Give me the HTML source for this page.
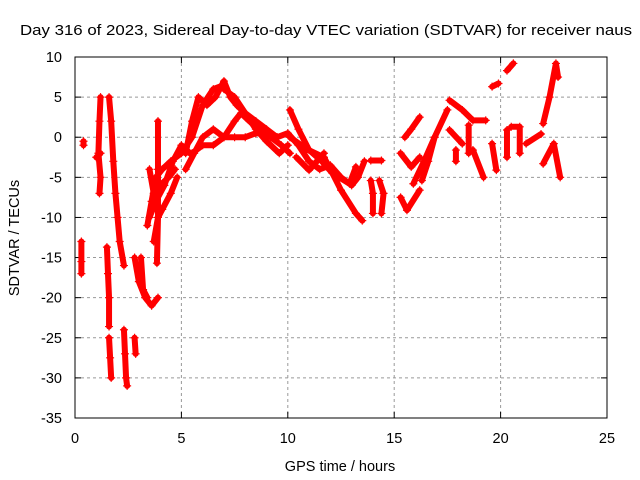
<!DOCTYPE html>
<html><head><meta charset="utf-8"><style>
body{margin:0;background:#fff}
svg{display:block;font-family:"Liberation Sans",sans-serif}
</style></head><body>
<svg id="chart" width="640" height="480" viewBox="0 0 640 480" xmlns="http://www.w3.org/2000/svg">
<text x="326" y="35" font-size="15.2" text-anchor="middle" textLength="612" lengthAdjust="spacingAndGlyphs">Day 316 of 2023, Sidereal Day-to-day VTEC variation (SDTVAR) for receiver naus</text>
<text x="340" y="471" font-size="14.5" text-anchor="middle">GPS time / hours</text>
<text transform="translate(19,238) rotate(-90)" font-size="14.5" text-anchor="middle">SDTVAR / TECUs</text>
<g id="grid"></g>
<g id="ticks"></g>
<g id="series"></g>
<rect x="75" y="57" width="532" height="361" fill="none" stroke="#000" stroke-width="1"/>
</svg>
<script>
const xTicks=[0,5,10,15,20,25];
const yTicks=[-35,-30,-25,-20,-15,-10,-5,0,5,10];
const tracks=[
[[0.3,-13],[0.3,-15.5],[0.3,-17]],
[[0.4,-1],[0.4,-0.5]],
[[1.0,-2.5],[1.2,-2]],
[[1.2,5],[1.15,2],[1.1,-2],[1.2,-5],[1.15,-7]],
[[1.6,5],[1.7,2],[1.8,-3],[1.9,-7],[2.0,-10],[2.1,-13],[2.3,-16]],
[[1.5,-13.7],[1.55,-17],[1.6,-20],[1.6,-23.6]],
[[1.6,-25],[1.65,-27.5],[1.7,-30]],
[[2.3,-24],[2.35,-27],[2.4,-30],[2.45,-31]],
[[2.8,-25],[2.85,-27]],
[[2.8,-15],[3.0,-18],[3.3,-20],[3.6,-21],[3.9,-20]],
[[3.1,-15],[3.2,-19],[3.4,-20]],
[[3.9,2],[3.9,-4],[3.9,-10],[3.85,-15.7]],
[[3.4,-11],[3.6,-8],[3.8,-5],[4.1,-4],[4.5,-3],[5.0,-2],[5.5,0],[6.0,4],[6.5,6],[7.0,6.5]],
[[3.5,-4],[3.7,-7],[4.0,-6],[4.4,-5],[4.7,-4]],
[[3.5,-10],[3.8,-8],[4.2,-6],[4.6,-3],[5.0,-1],[5.4,-2]],
[[3.7,-13],[3.9,-10],[4.1,-9],[4.5,-7],[4.8,-5]],
[[5.2,-2],[5.5,2],[5.8,5],[6.2,4],[6.6,5],[7.0,7],[7.3,5],[7.6,4],[8.0,3],[8.5,2],[9.0,1],[9.5,0],[10.0,0.5],[10.5,-1],[11.0,-3],[11.5,-4],[12.0,-3.5],[12.5,-5],[13.0,-6],[13.3,-5],[13.6,-3]],
[[5.5,-2],[6.0,-1],[6.5,-1],[7.0,0],[7.5,2],[7.8,3],[8.2,2],[8.7,1],[9.2,0],[9.7,-1],[10.1,-2]],
[[5.2,-4],[5.6,-2],[6.0,0],[6.5,1],[7.0,0],[7.5,0],[8.0,0],[8.5,0.5],[9.0,0.5],[9.5,0]],
[[7.0,6],[7.5,5],[8.0,3],[8.5,1],[9.0,-0.5],[9.6,-2],[10.0,-1]],
[[10.1,3.4],[10.5,1],[11.0,-1.6],[11.6,-3],[12.1,-4.5],[12.9,-5.8],[13.2,-3.7]],
[[10.1,0],[10.9,-1.5],[11.7,-2.5],[12.1,-4.5],[12.5,-6.6],[13.2,-9.5],[13.5,-10.4]],
[[10.4,-2.5],[11.0,-4.1],[11.7,-2]],
[[13.9,-2.9],[14.4,-2.9]],
[[13.9,-5.4],[14.0,-7],[14.0,-9.5]],
[[14.3,-5.4],[14.5,-7],[14.4,-9.5]],
[[15.5,0],[15.8,1],[16.2,2.5]],
[[15.3,-2],[15.8,-3.7],[16.2,-2.5]],
[[15.3,-7.5],[15.6,-9.1],[16.2,-6.6]],
[[15.9,-5.8],[16.4,-3],[16.9,0],[17.5,3.4]],
[[16.3,-5.4],[16.6,-3],[16.9,0]],
[[17.6,4.6],[18.2,3.4],[18.7,2.1],[19.3,2.1]],
[[17.6,0.9],[18.2,-0.8]],
[[18.5,1.5],[18.5,-2]],
[[18.7,-1.6],[19.2,-5]],
[[17.9,-1.6],[17.9,-3]],
[[19.6,6.3],[19.9,6.7]],
[[20.3,8.3],[20.6,9.2]],
[[19.6,-0.8],[19.8,-4.1]],
[[20.3,0.9],[20.3,-2.5]],
[[20.5,1.3],[20.9,1.3],[20.9,-2]],
[[21.2,-0.8],[21.9,0.4]],
[[22.0,1.7],[22.3,5],[22.6,9.2],[22.7,7.5]],
[[22.0,-3.3],[22.5,-0.8],[22.8,-5]]
];
const X0=75,X1=607,Y0=418,Y1=57;
function xs(t){return X0+(t-0)/25*(X1-X0);}
function ys(v){return Y0-(v+35)/45*(Y0-Y1);}
const NS="http://www.w3.org/2000/svg";
const grid=document.getElementById('grid'),ticks=document.getElementById('ticks'),series=document.getElementById('series');
function mk(tag,attrs,parent){const e=document.createElementNS(NS,tag);for(const k in attrs)e.setAttribute(k,attrs[k]);parent.appendChild(e);return e;}
xTicks.forEach(t=>{
 const x=xs(t);
 if(t>0&&t<25){const g=mk('line',{x1:x,x2:x,y1:Y1,y2:Y0,stroke:'#999','stroke-dasharray':'3,3'},grid);
 
 }
 mk('line',{x1:x,x2:x,y1:Y0,y2:Y0-6,stroke:'#000'},ticks);
 mk('line',{x1:x,x2:x,y1:Y1,y2:Y1+6,stroke:'#000'},ticks);
 const l=mk('text',{x:x,y:443,'font-size':14.5,'text-anchor':'middle'},ticks);
 l.textContent=t;
 
 
});
yTicks.forEach(v=>{
 const y=ys(v);
 if(v>-35&&v<10){const g=mk('line',{x1:X0,x2:X1,y1:y,y2:y,stroke:'#999','stroke-dasharray':'3,3'},grid);
 
 }
 mk('line',{x1:X0,x2:X0+6,y1:y,y2:y,stroke:'#000'},ticks);
 mk('line',{x1:X1,x2:X1-6,y1:y,y2:y,stroke:'#000'},ticks);
 const l=mk('text',{x:62,y:y+5,'font-size':14.5,'text-anchor':'end'},ticks);
 l.textContent=v;
 
 
});
tracks.forEach(tr=>{
 const pts=tr.map(p=>xs(p[0])+','+ys(p[1])).join(' ');
 const pl=mk('polyline',{points:pts,fill:'none',stroke:'#f00','stroke-width':6,'stroke-linejoin':'round','stroke-linecap':'round'},series);
 
 
 tr.forEach(p=>{
  const x=xs(p[0]),y=ys(p[1]);
  const m=mk('path',{d:`M${x-4},${y}H${x+4}M${x},${y-4}V${y+4}`,stroke:'#f00','stroke-width':1.2},series);
  
  
 });
});
</script>
</body></html>
